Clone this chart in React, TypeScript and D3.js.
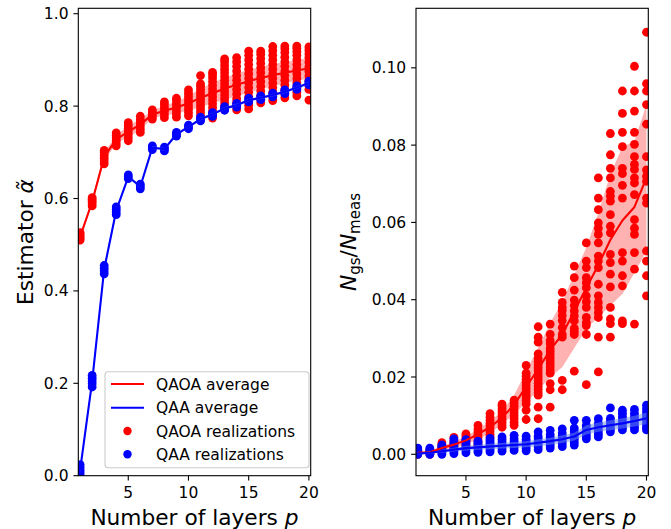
import React from 'react';
import * as d3 from 'd3';

// number of layers p
const layers = [1, 2, 3, 4, 5, 6, 7, 8, 9, 10, 11, 12, 13, 14, 15, 16, 17, 18, 19, 20];
const xTicks = [5, 10, 15, 20];

const alphaTicks = [0, 0.2, 0.4, 0.6, 0.8, 1.0];
const alphaTickLabels = ['0.0', '0.2', '0.4', '0.6', '0.8', '1.0'];
const ratioTicks = [0, 0.02, 0.04, 0.06, 0.08, 0.1];
const ratioTickLabels = ['0.00', '0.02', '0.04', '0.06', '0.08', '0.10'];

const legendLabels = ['QAOA average', 'QAA average', 'QAOA realizations', 'QAA realizations'];

// left panel: estimator alpha
const qaoaAlphaMean = [0.517, 0.593, 0.69, 0.728, 0.745, 0.76, 0.782, 0.79, 0.797, 0.806, 0.818, 0.828, 0.838, 0.846, 0.854, 0.861, 0.867, 0.872, 0.877, 0.882];
const qaoaAlphaSpread = [0.005, 0.006, 0.009, 0.009, 0.012, 0.012, 0.008, 0.011, 0.013, 0.016, 0.02, 0.022, 0.024, 0.024, 0.025, 0.024, 0.024, 0.023, 0.022, 0.022];
const qaaAlphaMean = [0.012, 0.204, 0.447, 0.574, 0.647, 0.626, 0.71, 0.707, 0.739, 0.755, 0.772, 0.782, 0.795, 0.802, 0.813, 0.818, 0.824, 0.831, 0.84, 0.85];
const qaaAlphaSpread = [0.008, 0.009, 0.007, 0.006, 0.003, 0.003, 0.003, 0.003, 0.003, 0.003, 0.003, 0.003, 0.003, 0.003, 0.003, 0.003, 0.003, 0.003, 0.003, 0.003];

const qaoaAlphaRuns = [
  [0.51, 0.514, 0.518, 0.522, 0.526],
  [0.584, 0.589, 0.594, 0.598, 0.602],
  [0.675, 0.681, 0.687, 0.693, 0.699, 0.704],
  [0.714, 0.72, 0.726, 0.732, 0.737, 0.742],
  [0.725, 0.732, 0.739, 0.746, 0.752, 0.758, 0.764],
  [0.743, 0.75, 0.757, 0.764, 0.771, 0.778],
  [0.772, 0.777, 0.782, 0.787, 0.792],
  [0.775, 0.782, 0.789, 0.796, 0.803, 0.809],
  [0.776, 0.783, 0.79, 0.797, 0.804, 0.811, 0.817],
  [0.779, 0.786, 0.793, 0.8, 0.807, 0.814, 0.821, 0.828, 0.835],
  [0.78, 0.787, 0.794, 0.801, 0.808, 0.815, 0.822, 0.829, 0.836, 0.843, 0.848, 0.866],
  [0.774, 0.781, 0.789, 0.797, 0.805, 0.813, 0.821, 0.829, 0.837, 0.845, 0.853, 0.861, 0.868, 0.873],
  [0.792, 0.8, 0.808, 0.816, 0.824, 0.832, 0.84, 0.848, 0.856, 0.864, 0.872, 0.88, 0.888, 0.896, 0.902],
  [0.792, 0.8, 0.808, 0.816, 0.826, 0.836, 0.846, 0.856, 0.866, 0.876, 0.886, 0.896, 0.905],
  [0.794, 0.802, 0.81, 0.82, 0.83, 0.84, 0.85, 0.86, 0.87, 0.88, 0.89, 0.9, 0.91, 0.919],
  [0.807, 0.815, 0.823, 0.833, 0.843, 0.853, 0.863, 0.873, 0.883, 0.893, 0.903, 0.912, 0.919],
  [0.812, 0.82, 0.83, 0.84, 0.85, 0.86, 0.87, 0.88, 0.89, 0.9, 0.91, 0.92, 0.929],
  [0.818, 0.826, 0.836, 0.846, 0.856, 0.866, 0.876, 0.886, 0.896, 0.906, 0.916, 0.924, 0.93],
  [0.822, 0.83, 0.84, 0.85, 0.86, 0.87, 0.88, 0.89, 0.9, 0.91, 0.918, 0.925, 0.93],
  [0.813, 0.836, 0.845, 0.855, 0.865, 0.875, 0.885, 0.895, 0.905, 0.913, 0.921, 0.928],
];

const qaaAlphaRuns = [
  [0.0, 0.006, 0.012, 0.018, 0.024],
  [0.192, 0.199, 0.205, 0.211, 0.217],
  [0.437, 0.443, 0.449, 0.455],
  [0.565, 0.571, 0.577, 0.582],
  [0.643, 0.647, 0.651],
  [0.621, 0.626, 0.631],
  [0.706, 0.71, 0.714],
  [0.703, 0.707, 0.711],
  [0.735, 0.739, 0.743],
  [0.751, 0.755, 0.759],
  [0.768, 0.772, 0.776],
  [0.778, 0.782, 0.786],
  [0.791, 0.795, 0.799],
  [0.798, 0.802, 0.806],
  [0.809, 0.813, 0.817],
  [0.814, 0.818, 0.822],
  [0.82, 0.824, 0.828],
  [0.827, 0.831, 0.835],
  [0.836, 0.84, 0.844],
  [0.846, 0.85, 0.854],
];

// right panel: N_gs / N_meas
const qaoaRatioMean = [0.0004, 0.0005, 0.0016, 0.0025, 0.0036, 0.0052, 0.007, 0.0095, 0.0128, 0.0175, 0.022, 0.027, 0.031, 0.037, 0.043, 0.049, 0.0555, 0.0605, 0.064, 0.0715];
const qaoaRatioSpread = [0.0002, 0.0003, 0.0005, 0.0008, 0.001, 0.0013, 0.0016, 0.0016, 0.0025, 0.004, 0.0055, 0.007, 0.0085, 0.0095, 0.0105, 0.0135, 0.017, 0.019, 0.017, 0.019];
const qaaRatioMean = [0.0002, 0.0004, 0.0008, 0.0012, 0.0016, 0.0018, 0.002, 0.0022, 0.0024, 0.0026, 0.003, 0.0034, 0.0039, 0.0046, 0.0063, 0.007, 0.0075, 0.008, 0.0086, 0.0093];
const qaaRatioSpread = [0.0003, 0.0003, 0.0004, 0.0005, 0.0006, 0.0006, 0.0007, 0.0007, 0.0008, 0.0008, 0.0009, 0.0009, 0.001, 0.001, 0.0012, 0.0012, 0.0013, 0.0013, 0.0014, 0.0015];

const qaoaRatioRuns = [
  [0, 0.0003, 0.0006, 0.001],
  [0, 0.0003, 0.0006, 0.001],
  [0.0008, 0.0013, 0.0018, 0.0024, 0.003],
  [0.0012, 0.0018, 0.0024, 0.003, 0.0036, 0.0044],
  [0.0018, 0.0024, 0.003, 0.0036, 0.0042, 0.0048, 0.0053],
  [0.0024, 0.003, 0.0037, 0.0044, 0.0051, 0.0058, 0.0065, 0.0075],
  [0.0045, 0.0052, 0.0059, 0.0066, 0.0073, 0.008, 0.0088, 0.0096, 0.0105],
  [0.007, 0.0076, 0.0083, 0.009, 0.0097, 0.0104, 0.0111, 0.0118, 0.0125, 0.013],
  [0.0075, 0.0083, 0.0092, 0.01, 0.0108, 0.0116, 0.0124, 0.0132, 0.014],
  [0.009, 0.0114, 0.013, 0.0138, 0.0146, 0.0154, 0.0162, 0.017, 0.0178, 0.0186, 0.0194, 0.0202, 0.021, 0.023],
  [0.0092, 0.0122, 0.0153, 0.016, 0.0168, 0.0176, 0.0184, 0.0192, 0.02, 0.0208, 0.0216, 0.0224, 0.0232, 0.024, 0.0248, 0.026, 0.029, 0.0303, 0.033],
  [0.0122, 0.0167, 0.0183, 0.021, 0.0218, 0.0226, 0.0234, 0.0242, 0.025, 0.0258, 0.0266, 0.0274, 0.0286, 0.0294, 0.031, 0.0337],
  [0.0167, 0.0191, 0.0303, 0.031, 0.0328, 0.0346, 0.0359, 0.0372, 0.038, 0.0393, 0.0419],
  [0.0215, 0.031, 0.0318, 0.0326, 0.0345, 0.0358, 0.0371, 0.0385, 0.0399, 0.0425, 0.0457, 0.0487],
  [0.018, 0.031, 0.0333, 0.0341, 0.0354, 0.038, 0.0395, 0.041, 0.0431, 0.0444, 0.0457, 0.0483, 0.05, 0.0547],
  [0.0213, 0.0303, 0.0354, 0.0367, 0.038, 0.0393, 0.041, 0.044, 0.0483, 0.05, 0.0513, 0.0547, 0.0569, 0.0585, 0.0599, 0.0633, 0.0663, 0.0715],
  [0.0303, 0.0338, 0.035, 0.038, 0.0433, 0.0466, 0.0496, 0.0517, 0.0573, 0.059, 0.062, 0.0655, 0.0668, 0.068, 0.0715, 0.074, 0.0775, 0.083],
  [0.0338, 0.0345, 0.0436, 0.0462, 0.05, 0.0522, 0.0663, 0.0696, 0.0726, 0.074, 0.0796, 0.0833, 0.0882, 0.094],
  [0.0337, 0.0479, 0.0522, 0.0569, 0.0585, 0.0607, 0.0672, 0.0702, 0.0715, 0.0737, 0.075, 0.077, 0.0802, 0.0833, 0.0888, 0.094, 0.1004],
  [0.041, 0.0462, 0.05, 0.0526, 0.065, 0.0663, 0.0706, 0.0719, 0.0736, 0.077, 0.0854, 0.0905, 0.094, 0.0959, 0.1092],
];

const qaaRatioRuns = [
  [0, 0.0004, 0.0008, 0.0012, 0.0016],
  [0, 0.0004, 0.0008, 0.0012, 0.0016],
  [0, 0.0005, 0.001, 0.0015, 0.002, 0.0024],
  [0.0002, 0.0008, 0.0014, 0.002, 0.0026, 0.0032, 0.004],
  [0.0004, 0.001, 0.0016, 0.0022, 0.0028, 0.0034, 0.0038],
  [0.0005, 0.001, 0.0015, 0.002, 0.0025, 0.003, 0.0034],
  [0.0006, 0.0011, 0.0016, 0.0021, 0.0026, 0.0031, 0.0036, 0.0041],
  [0.0008, 0.0014, 0.002, 0.0026, 0.0032, 0.0038, 0.0045],
  [0.001, 0.0016, 0.0022, 0.0028, 0.0034, 0.004, 0.0049],
  [0.0009, 0.0015, 0.0021, 0.0027, 0.0033, 0.0039, 0.0047],
  [0.0012, 0.0019, 0.0026, 0.0033, 0.004, 0.0047, 0.0058],
  [0.0016, 0.0023, 0.003, 0.0037, 0.0044, 0.0051, 0.0062],
  [0.002, 0.0027, 0.0034, 0.0041, 0.0048, 0.0055, 0.0066],
  [0.0024, 0.0031, 0.0038, 0.0045, 0.0052, 0.006, 0.0068, 0.0088],
  [0.004, 0.0047, 0.0054, 0.0061, 0.0068, 0.0075, 0.0088],
  [0.0045, 0.0052, 0.0059, 0.0066, 0.0073, 0.008, 0.0092],
  [0.0058, 0.0065, 0.0072, 0.0079, 0.0086, 0.0093, 0.012],
  [0.0063, 0.007, 0.0077, 0.0084, 0.0091, 0.0098, 0.0106, 0.0114],
  [0.0063, 0.007, 0.0077, 0.0084, 0.0091, 0.0098, 0.0106, 0.0116],
  [0.0063, 0.007, 0.0078, 0.0086, 0.0094, 0.0102, 0.011, 0.0118, 0.0127],
];

const RED = '#ff0000';
const BLUE = '#0000ff';
const FONT = 'DejaVu Sans, sans-serif';
const TOP = 8.3;
const BOTTOM = 475.7;
const X_DOMAIN = [0.85, 20.15];

type Series = {
  mean: number[];
  spread: number[];
  runs: number[][];
  color: string;
  band: string;
  bandOpacity: number;
};

const Panel = ({ id, range, yDomain, ticks, tickLabels, red, blue, children }: any) => {
  const x = d3.scaleLinear().domain(X_DOMAIN).range(range);
  const y = d3.scaleLinear().domain(yDomain).range([BOTTOM, TOP]);

  const line = (s: Series) =>
    d3.line<number>().x((_, i) => x(layers[i])).y(d => y(d))(s.mean) || '';
  const area = (s: Series) =>
    d3.area<number>()
      .x((_, i) => x(layers[i]))
      .y0((d, i) => y(d - s.spread[i]))
      .y1((d, i) => y(d + s.spread[i]))(s.mean) || '';
  const dots = (s: Series, key: string) =>
    s.runs.flatMap((vals, i) =>
      vals.map((v, j) => (
        <circle key={`${key}-${i}-${j}`} cx={x(layers[i])} cy={y(v)} r={4.4} fill={s.color} />
      ))
    );

  return (
    <g>
      <defs>
        <clipPath id={id}>
          <rect x={range[0]} y={TOP} width={range[1] - range[0]} height={BOTTOM - TOP} />
        </clipPath>
      </defs>
      <g clipPath={`url(#${id})`}>
        <path d={area(red)} fill={red.band} fillOpacity={red.bandOpacity} />
        {dots(red, 'r')}
        {dots(blue, 'b')}
        <path d={area(blue)} fill={blue.band} fillOpacity={blue.bandOpacity} />
        <path d={line(red)} fill="none" stroke={RED} strokeWidth={2.1} strokeLinejoin="round" />
        <path d={line(blue)} fill="none" stroke={BLUE} strokeWidth={2.1} strokeLinejoin="round" />
      </g>
      <rect x={range[0]} y={TOP} width={range[1] - range[0]} height={BOTTOM - TOP}
        fill="none" stroke="#000" strokeWidth={1.1} />
      {xTicks.map(t => (
        <g key={`x${t}`}>
          <line x1={x(t)} x2={x(t)} y1={BOTTOM} y2={BOTTOM + 4.9} stroke="#000" strokeWidth={1.1} />
          <text x={x(t)} y={BOTTOM + 22} textAnchor="middle" fontSize={15.5} fontFamily={FONT}>{t}</text>
        </g>
      ))}
      {ticks.map((t: number, i: number) => (
        <g key={`y${i}`}>
          <line x1={range[0] - 4.9} x2={range[0]} y1={y(t)} y2={y(t)} stroke="#000" strokeWidth={1.1} />
          <text x={range[0] - 9.8} y={y(t)} dy="0.36em" textAnchor="end" fontSize={15.5} fontFamily={FONT}>
            {tickLabels[i]}
          </text>
        </g>
      ))}
      <text x={(range[0] + range[1]) / 2} y={525} textAnchor="middle" fontSize={21.7} fontFamily={FONT}>
        Number of layers <tspan fontStyle="italic">p</tspan>
      </text>
      {children}
    </g>
  );
};

const Legend = () => {
  const x0 = 105;
  const y0 = 371.7;
  const rows = [384, 407.7, 431, 454.3];
  return (
    <g fontFamily={FONT} fontSize={15.5}>
      <rect x={x0} y={y0} width={204} height={96} rx={3} fill="#fff" fillOpacity={0.8}
        stroke="#cccccc" strokeWidth={1.1} />
      <line x1={111} x2={144} y1={rows[0]} y2={rows[0]} stroke={RED} strokeWidth={2.1} />
      <line x1={111} x2={144} y1={rows[1]} y2={rows[1]} stroke={BLUE} strokeWidth={2.1} />
      <circle cx={127.5} cy={rows[2]} r={4.2} fill={RED} />
      <circle cx={127.5} cy={rows[3]} r={4.2} fill={BLUE} />
      {legendLabels.map((l, i) => (
        <text key={l} x={156} y={rows[i]} dy="0.36em">{l}</text>
      ))}
    </g>
  );
};

export default function App() {
  const alphaRed: Series = { mean: qaoaAlphaMean, spread: qaoaAlphaSpread, runs: qaoaAlphaRuns, color: RED, band: RED, bandOpacity: 0.3 };
  const alphaBlue: Series = { mean: qaaAlphaMean, spread: qaaAlphaSpread, runs: qaaAlphaRuns, color: BLUE, band: '#6b8fe0', bandOpacity: 0.5 };
  const ratioRed: Series = { mean: qaoaRatioMean, spread: qaoaRatioSpread, runs: qaoaRatioRuns, color: RED, band: RED, bandOpacity: 0.3 };
  const ratioBlue: Series = { mean: qaaRatioMean, spread: qaaRatioSpread, runs: qaaRatioRuns, color: BLUE, band: '#6b8fe0', bandOpacity: 0.5 };

  return (
    <svg width={671} height={529} style={{ position: 'absolute', left: 0, top: 0, background: '#fff' }}>
      <rect width={671} height={529} fill="#fff" />
      <Panel id="clipL" range={[78.3, 310.7]} yDomain={[0, 1.0117]} ticks={alphaTicks}
        tickLabels={alphaTickLabels} red={alphaRed} blue={alphaBlue}>
        <Legend />
      </Panel>
      <Panel id="clipR" range={[416, 648.3]} yDomain={[-0.00554, 0.1154]} ticks={ratioTicks}
        tickLabels={ratioTickLabels} red={ratioRed} blue={ratioBlue} />
      <text transform="translate(33,242) rotate(-90)" textAnchor="middle" fontSize={21.7} fontFamily={FONT}>
        Estimator <tspan fontStyle="italic">{'\u03b1\u0303'}</tspan>
      </text>
      <text transform="translate(356,242) rotate(-90)" textAnchor="middle" fontSize={21.7} fontFamily={FONT}>
        <tspan fontStyle="italic">N</tspan>
        <tspan fontSize={15} dy={4}>gs</tspan>
        <tspan dy={-4}>/</tspan>
        <tspan fontStyle="italic">N</tspan>
        <tspan fontSize={15} dy={4}>meas</tspan>
      </text>
    </svg>
  );
}
